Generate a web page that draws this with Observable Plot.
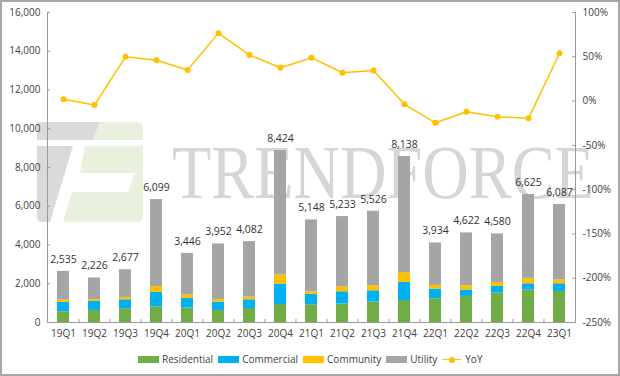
<!DOCTYPE html>
<html>
<head>
<meta charset="utf-8">
<script src="https://cdn.jsdelivr.net/npm/d3@7"></script>
<script src="https://cdn.jsdelivr.net/npm/@observablehq/plot@0.6"></script>
<style>
  html, body { margin: 0; padding: 0; background: #fff; }
  #wrap { position: relative; width: 620px; height: 376px; overflow: hidden; font-family: "Open Sans", sans-serif; }
  #wm, #chart, #legend, #border { position: absolute; left: 0; top: 0; }
  #chart { z-index: 1; }
  #legend { z-index: 2; top: 352px; left: 138px; display: flex; align-items: center; font-size: 10px; color: #404040; white-space: nowrap; }
  .item { display: flex; align-items: center; margin-right: 5px; }
  .sw { width: 21px; height: 7px; margin-right: 3px; }
  .ln { position: relative; width: 19px; height: 8px; margin-right: 4px; }
  .ln::before { content: ""; position: absolute; left: 0; right: 0; top: 3.5px; height: 1.5px; background: #ffc000; }
  .ln::after { content: ""; position: absolute; left: 6.5px; top: 1.5px; width: 6px; height: 6px; border-radius: 50%; background: #ffc000; }
  #border { z-index: 3; width: 620px; height: 376px; box-sizing: border-box; border: 2px solid #a6a6a6; pointer-events: none; }
</style>
</head>
<body>
<div id="wrap">
  <svg id="wm" width="620" height="376">
    <path d="M37,122 L100,122 L93,140 L37,140 Z" fill="#dadada"/>
    <path d="M100,122 L137,122 Q143,122 143,128 L143,140 L93,140 Z" fill="#e9f1de"/>
    <path d="M37,146 L73,146 L50,222 L43,222 Q37,222 37,216 Z" fill="#dadada"/>
    <path d="M85,146 L143,146 L143,216 Q143,222 137,222 L63,222 L72,192 L128,192 L135,173 L80,173 Z" fill="#e9f1de"/>
    <text x="172" y="198" font-family="Liberation Serif, serif" font-size="77" fill="#d6d6d6" textLength="422" lengthAdjust="spacingAndGlyphs">TRENDFORCE</text>
  </svg>
  <div id="chart"></div>
  <div id="legend">
    <div class="item"><div class="sw" style="background:#70ad47"></div>Residential</div>
    <div class="item"><div class="sw" style="background:#00b0f0"></div>Commercial</div>
    <div class="item"><div class="sw" style="background:#ffc000"></div>Community</div>
    <div class="item"><div class="sw" style="background:#a5a5a5"></div>Utility</div>
    <div class="item"><div class="ln"></div>YoY</div>
  </div>
  <div id="border"></div>
</div>
<script>
const quarters = ["19Q1","19Q2","19Q3","19Q4","20Q1","20Q2","20Q3","20Q4","21Q1","21Q2","21Q3","21Q4","22Q1","22Q2","22Q3","22Q4","23Q1"];
const residential = [553,621,708,812,743,621,724,931,915,952,1055,1138,1224,1345,1519,1676,1603];
const commercial  = [481,465,464,740,498,434,448,1034,533,634,583,931,504,331,343,324,397];
const community   = [124,104,121,293,174,135,138,485,138,259,259,502,186,221,207,276,207];
const utility     = [1480,1107,1432,4501,2154,2865,2864,6430,3710,3622,3844,5999,2193,2727,2503,4329,3880];
const totalLabels = ["2,535","2,226","2,677","6,099","3,446","3,952","4,082","8,424","5,148","5,233","5,526","8,138","3,934","4,622","4,580","6,625","6,087"];
const yoy = [2,-4.5,50,46,35,76.7,52,37.6,49,32,34.6,-3.7,-24.5,-12,-17.7,-19.5,54];
const leftTicks = [0,2000,4000,6000,8000,10000,12000,14000,16000];
const rightTicks = [-250,-200,-150,-100,-50,0,50,100];

const series = ["Residential","Commercial","Community","Utility"];
const colors = ["#70ad47","#00b0f0","#ffc000","#a5a5a5"];
const seriesValues = [residential, commercial, community, utility];

const stacked = [];
quarters.forEach((q, i) => series.forEach((s, j) => stacked.push({q, s, v: seriesValues[j][i]})));
const totals = quarters.map((q, i) => ({q, t: seriesValues.reduce((a, arr) => a + arr[i], 0), label: totalLabels[i]}));
const yoyData = quarters.map((q, i) => ({q, yoy: yoy[i]}));

const yMax = 16000, pMin = -250, pMax = 100;
const toLeft = p => (p - pMin) / (pMax - pMin) * yMax;
const fromLeft = v => v / yMax * (pMax - pMin) + pMin;

const axisColor = "#9a9a9a";
const textColor = "#404040";

const chart = Plot.plot({
  width: 620, height: 376,
  marginLeft: 47, marginRight: 45, marginTop: 12, marginBottom: 54,
  x: {domain: quarters, paddingInner: 0.62, paddingOuter: 0.31, axis: null, label: null},
  y: {domain: [0, yMax], axis: null, label: null},
  color: {domain: series, range: colors},
  style: {background: "transparent", fontFamily: "Open Sans", fontSize: "10px", color: textColor, overflow: "visible"},
  marks: [
    Plot.barY(stacked, {x: "q", y: "v", fill: "s", order: series}),
    Plot.ruleY([0], {stroke: axisColor}),
    Plot.frame({anchor: "left", stroke: axisColor}),
    Plot.frame({anchor: "right", stroke: axisColor}),
    Plot.ruleX(quarters.slice(1), {x: d => d, dx: -15.53, y1: 0, y2: 160, stroke: axisColor}),
    Plot.axisX({tickSize: 0, tickPadding: 7, fontSize: 10, fill: textColor, label: null}),
    Plot.axisY(leftTicks, {anchor: "left", tickSize: -3, tickPadding: 10, tickFormat: d3.format(","), stroke: axisColor, fill: textColor, fontSize: 10, label: null}),
    Plot.axisY(rightTicks.map(toLeft), {anchor: "right", tickSize: -4, tickPadding: 11, tickFormat: v => Math.round(fromLeft(v)) + "%", stroke: axisColor, fill: textColor, fontSize: 10, label: null}),
    Plot.text(totals, {x: "q", y: "t", text: "label", dy: -12, fontSize: 10.5, fill: "#333"}),
    Plot.line(yoyData, {x: "q", y: d => toLeft(d.yoy), stroke: "#ffc000", strokeWidth: 1.5}),
    Plot.dot(yoyData, {x: "q", y: d => toLeft(d.yoy), r: 3, fill: "#ffc000"})
  ]
});
document.getElementById("chart").appendChild(chart);
</script>
</body>
</html>
